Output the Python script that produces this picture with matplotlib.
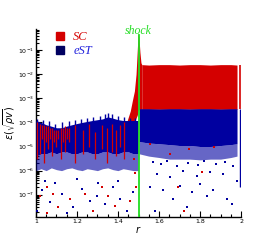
import numpy as np
import matplotlib
matplotlib.use("Agg")
import matplotlib.pyplot as plt
from matplotlib.lines import Line2D
from matplotlib.ticker import LogLocator, FixedLocator, MultipleLocator, NullFormatter, FuncFormatter

red = '#d40000'
blue = '#0000a0'
navy = '#000060'
green = '#22dd22'

# ---- eST (blue) : pre-shock band ----
est_r_pre = [1.0, 1.025, 1.05, 1.075, 1.1, 1.125, 1.15, 1.175, 1.2, 1.225, 1.25,
             1.275, 1.3, 1.325, 1.35, 1.375, 1.4, 1.425, 1.45, 1.475, 1.499]
est_hi_pre = [1.2e-4, 1.0e-4, 8e-5, 7e-5, 6e-5, 6e-5, 7e-5, 8e-5, 9e-5, 1.0e-4, 1.1e-4,
              1.2e-4, 1.3e-4, 1.4e-4, 1.7e-4, 1.5e-4, 1.3e-4, 1.2e-4, 1.2e-4, 1.2e-4, 1.2e-4]
est_lo_pre = [4e-6, 5e-6, 5e-6, 6e-6, 5e-6, 6e-6, 6e-6, 5e-6, 5e-6, 6e-6, 6e-6,
              5e-6, 5e-6, 6e-6, 6e-6, 5e-6, 5e-6, 6e-6, 6e-6, 5e-6, 5e-6]
est_fringe_pre = [1.0e-6, 1.2e-6, 1.0e-6, 1.3e-6, 1.1e-6, 1.0e-6, 1.2e-6, 1.3e-6, 1.1e-6, 1.0e-6, 1.2e-6,
                  1.1e-6, 1.0e-6, 1.2e-6, 1.3e-6, 1.1e-6, 1.0e-6, 1.2e-6, 1.1e-6, 1.0e-6, 1.0e-6]

# blue spikes above the pre-shock band
est_spike_r = [1.005, 1.035, 1.065, 1.095, 1.125, 1.16, 1.19, 1.22, 1.25, 1.28,
               1.31, 1.335, 1.35, 1.37, 1.40, 1.43, 1.46, 1.485]
est_spike_hi = [1.4e-4, 1.3e-4, 1.1e-4, 9e-5, 1.0e-4, 1.1e-4, 1.3e-4, 1.4e-4, 1.5e-4, 1.7e-4,
                1.9e-4, 2.2e-4, 2.5e-4, 2.2e-4, 1.8e-4, 1.7e-4, 1.6e-4, 1.5e-4]

# ---- eST (blue) : post-shock band ----
est_r_post = [1.503, 1.55, 1.6, 1.65, 1.7, 1.75, 1.8, 1.85, 1.9, 1.95, 1.98]
est_hi_post = [3.7e-4, 3.7e-4, 3.6e-4, 3.7e-4, 3.7e-4, 3.6e-4, 3.7e-4, 3.7e-4, 3.6e-4, 3.7e-4, 3.7e-4]
est_lo_post = [1.6e-5, 1.4e-5, 1.3e-5, 1.2e-5, 1.1e-5, 1.1e-5, 1.0e-5, 1.0e-5, 1.1e-5, 1.2e-5, 1.3e-5]
est_fringe_post = [5e-6, 4e-6, 3.5e-6, 3e-6, 3e-6, 3e-6, 2.8e-6, 3e-6, 3e-6, 3.5e-6, 4e-6]

# ---- SC (red) : shock spike and post-shock band ----
sc_r_shock = [1.445, 1.46, 1.47, 1.48, 1.488, 1.494, 1.498, 1.502, 1.507, 1.512, 1.516]
sc_hi_shock = [1.2e-4, 3e-4, 8e-4, 2e-3, 1e-2, 0.1, 0.5, 0.35, 0.08, 3e-2, 2.5e-2]
sc_lo_shock = [5e-5, 6e-5, 8e-5, 1.0e-4, 1.5e-4, 2e-4, 3e-4, 3.5e-4, 3.5e-4, 3.5e-4, 3.5e-4]

sc_r_post = [1.516, 1.55, 1.6, 1.65, 1.7, 1.75, 1.8, 1.85, 1.9, 1.95, 1.98]
sc_hi_post = [2.5e-2, 2.4e-2, 2.5e-2, 2.5e-2, 2.4e-2, 2.5e-2, 2.5e-2, 2.4e-2, 2.5e-2, 2.5e-2, 2.4e-2]
sc_lo_post = [3.5e-4, 3.5e-4, 3.5e-4, 3.5e-4, 3.5e-4, 3.5e-4, 3.5e-4, 3.5e-4, 3.5e-4, 3.5e-4, 3.5e-4]

# red streaks on the pre-shock band
sc_streak_r = [1.005, 1.02, 1.03, 1.04, 1.05, 1.06, 1.07, 1.08, 1.09, 1.10, 1.11, 1.12,
               1.13, 1.14, 1.15, 1.16, 1.19, 1.23, 1.26,
               1.29, 1.32, 1.345, 1.37, 1.39, 1.41, 1.43]
sc_streak_lo = [3e-6, 5e-6, 2e-5, 2e-6, 1.5e-5, 8e-6, 2e-5, 4e-6, 1.5e-5, 1e-5, 2e-5, 3e-6,
                1.5e-5, 6e-6, 2e-5, 1.5e-5, 2e-6, 5e-6, 1e-5,
                3e-6, 8e-6, 2e-6, 6e-6, 4e-6, 1e-5, 3e-6]
sc_streak_hi = [1.0e-4, 9e-5, 8e-5, 8e-5, 7e-5, 7e-5, 6e-5, 6e-5, 5e-5, 5e-5, 5e-5, 6e-5,
                6e-5, 7e-5, 6e-5, 6e-5, 8e-5, 5e-5, 9e-5,
                4e-5, 8e-5, 6e-5, 9e-5, 5e-5, 8e-5, 1.0e-4]

# right-edge columns
edge_r = 1.995
edge_sc = (3.7e-4, 2.5e-2)
edge_est = (2e-7, 3.7e-4)

# ---- sparse points below the bands ----
est_pts_r = [1.003, 1.028, 1.044, 1.068, 1.093, 1.125, 1.15, 1.182, 1.198, 1.223, 1.263,
             1.296, 1.304, 1.337, 1.377, 1.401, 1.41, 1.442, 1.475,
             1.556, 1.58, 1.589, 1.621, 1.654, 1.67, 1.702, 1.719, 1.735, 1.76, 1.784,
             1.8, 1.833, 1.849, 1.865, 1.914, 1.93, 1.955, 1.98,
             1.57, 1.61, 1.64, 1.69, 1.74, 1.79, 1.82, 1.88, 1.92, 1.96]
est_pts_v = [2.1e-8, 1.5e-7, 3.8e-7, 4.8e-8, 3.2e-7, 1.1e-7, 1.8e-8, 3.0e-8, 4.5e-7, 1.8e-7, 5.6e-8,
             9.1e-8, 3.2e-7, 4.2e-8, 2.0e-7, 3.8e-7, 6.8e-8, 2.1e-8, 1.3e-7,
             2.0e-7, 2.1e-8, 7.2e-7, 1.5e-7, 5.2e-7, 6.6e-8, 2.3e-7, 1.0e-6, 3.0e-8, 1.3e-7, 6.2e-7,
             2.8e-7, 9.1e-8, 8.5e-7, 1.5e-7, 7.2e-7, 6.6e-8, 4.1e-8, 3.8e-7,
             2.2e-6, 1.8e-6, 2.5e-6, 1.6e-6, 2.0e-6, 1.7e-6, 2.4e-6, 1.9e-6, 2.2e-6, 1.6e-6]
sc_pts_r = [1.02, 1.052, 1.052, 1.084, 1.109, 1.166, 1.239, 1.28, 1.32, 1.353, 1.385, 1.459,
            1.478, 1.485, 1.49, 1.556, 1.654, 1.694, 1.72, 1.747, 1.808, 1.87]
sc_pts_v = [9.1e-8, 2.0e-7, 1.8e-8, 1.1e-7, 3.0e-8, 6.6e-8, 1.1e-7, 2.1e-8, 2.0e-7, 9.1e-8, 3.5e-8, 5.6e-8,
            3.0e-6, 8.0e-7, 2.0e-7, 1.3e-5, 5.0e-6, 2.0e-7, 2.1e-8, 8.0e-6, 8.5e-7, 1.0e-5]

y_ticks = [1e-7, 1e-6, 1e-5, 1e-4, 1e-3, 1e-2, 1e-1]

fig = plt.figure(figsize=(2.74, 2.44), dpi=100)
ax = fig.add_axes([0.131, 0.111, 0.749, 0.770])

# SC post-shock band (under eST)
ax.fill_between(sc_r_post, sc_lo_post, sc_hi_post, color=red, lw=0, zorder=2)
ax.fill_between(sc_r_shock, sc_lo_shock, sc_hi_shock, color=red, lw=0, zorder=2)
ax.vlines(edge_r, edge_sc[0], edge_sc[1], color=red, lw=1.2, zorder=2)

# eST bands
ax.fill_between(est_r_pre, est_fringe_pre, est_lo_pre, color=blue, alpha=0.6, lw=0, zorder=3)
ax.fill_between(est_r_pre, est_lo_pre, est_hi_pre, color=blue, lw=0, zorder=3)
ax.vlines(est_spike_r, 2e-5, est_spike_hi, color=blue, lw=1.0, zorder=3)
ax.fill_between(est_r_post, est_fringe_post, est_lo_post, color=blue, alpha=0.6, lw=0, zorder=3)
ax.fill_between(est_r_post, est_lo_post, est_hi_post, color=blue, lw=0, zorder=3)
ax.vlines(edge_r, edge_est[0], edge_est[1], color=blue, lw=1.0, zorder=3)

# SC streaks over the pre-shock band
ax.vlines(sc_streak_r, sc_streak_lo, sc_streak_hi, color=red, lw=0.9, zorder=4)

ax.scatter(est_pts_r, est_pts_v, s=1.5, marker='s', color=blue, lw=0, zorder=4)
ax.scatter(sc_pts_r, sc_pts_v, s=1.5, marker='s', color=red, lw=0, zorder=4)

# shock position
ax.axvline(1.5, ymax=0.97, color=green, lw=1.3, zorder=5)
ax.text(1.5, 0.99, 'shock', transform=ax.get_xaxis_transform(), ha='center', va='center',
        color=green, fontsize=8.5, style='italic', family='Liberation Serif', zorder=6)

ax.set_yscale('log')
ax.set_xlim(1, 2)
ax.set_ylim(1.2e-8, 0.75)
ax.xaxis.set_major_locator(MultipleLocator(0.2))
ax.xaxis.set_minor_locator(MultipleLocator(0.05))
ax.xaxis.set_major_formatter(FuncFormatter(lambda v, p: '%g' % round(v, 2)))
ax.yaxis.set_major_locator(FixedLocator(y_ticks))
ax.yaxis.set_minor_locator(LogLocator(base=10, subs=np.arange(2, 10), numticks=20))
ax.yaxis.set_minor_formatter(NullFormatter())
ax.tick_params(which='both', direction='in', labelsize=4.5, width=0.8, pad=1.5)
ax.tick_params(which='major', length=4)
ax.tick_params(which='minor', length=2)
for side in ['top', 'right']:
    ax.spines[side].set_visible(False)
for side in ['left', 'bottom']:
    ax.spines[side].set_linewidth(1.0)

ax.set_xlabel('$r$', fontsize=7, labelpad=0)
ax.set_ylabel(r'$\varepsilon(\sqrt{\rho v})$', fontsize=7)
ax.yaxis.set_label_coords(-0.088, 0.5)

handles = [Line2D([], [], ls='none', marker='s', ms=6, color=red),
           Line2D([], [], ls='none', marker='s', ms=6, color=navy)]
leg = ax.legend(handles, ['SC', 'eST'], loc='upper left', bbox_to_anchor=(0.03, 1.05),
                frameon=False, handlelength=1.0, handletextpad=0.6, labelspacing=0.2,
                labelcolor=[red, '#2222dd'],
                prop={'family': 'Liberation Serif', 'style': 'italic', 'size': 9})

fig.savefig('out.png', dpi=100)
